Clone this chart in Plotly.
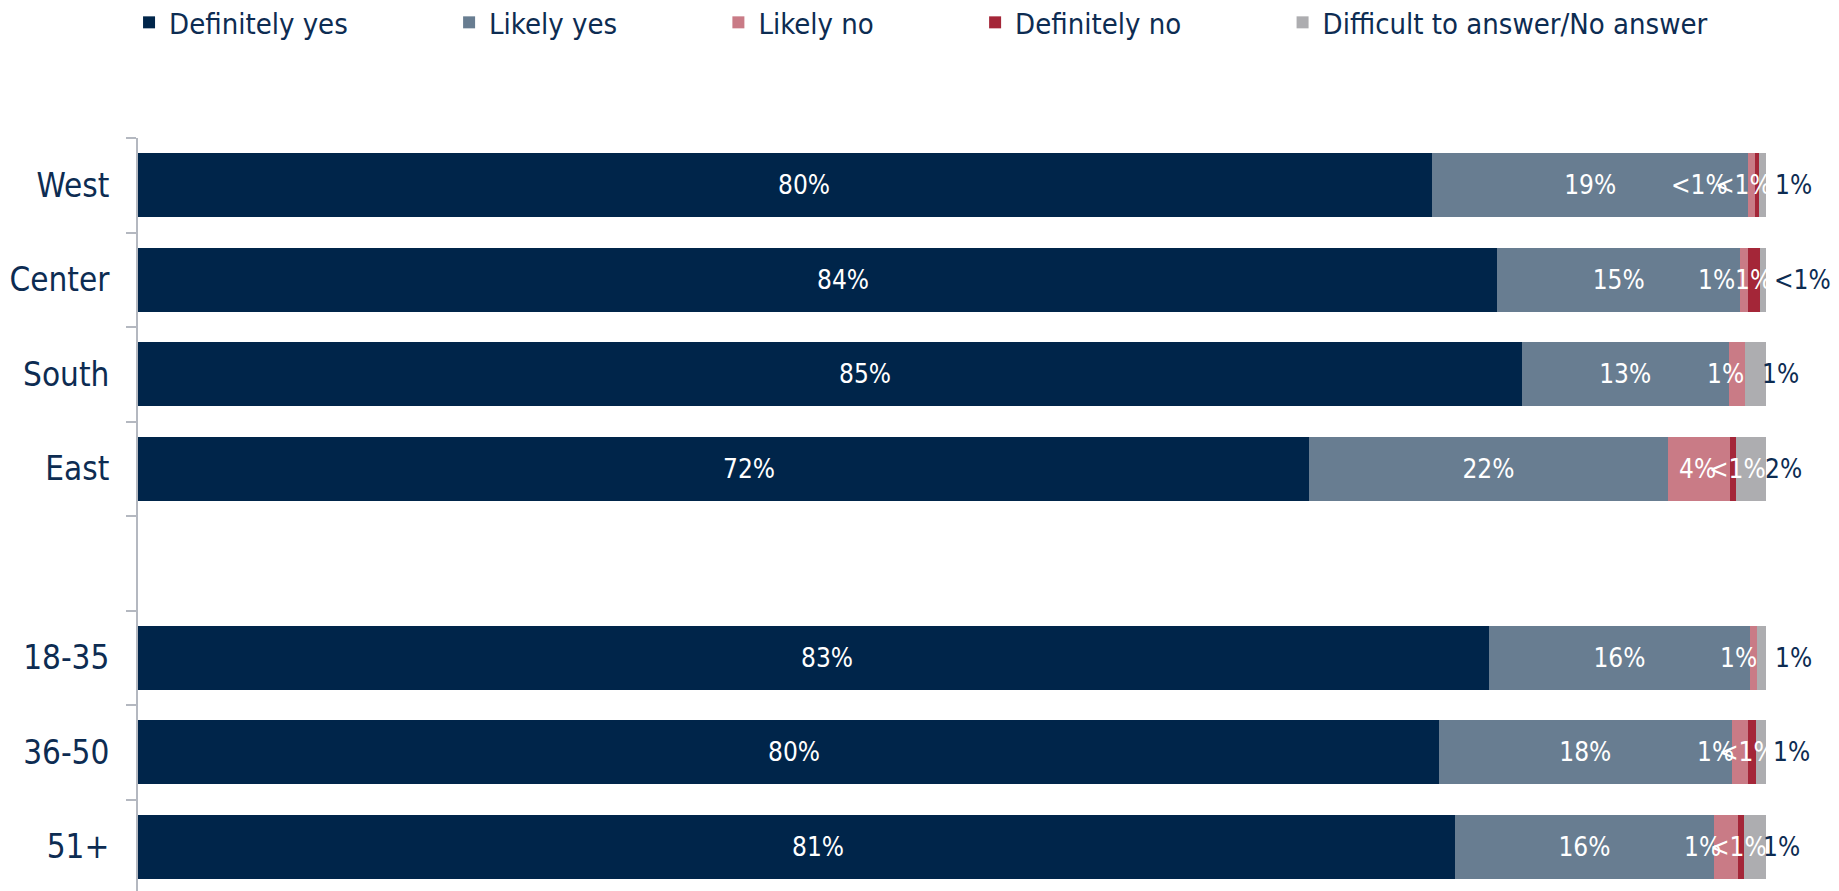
import plotly.graph_objects as go

# ---------------- data ----------------
categories = ["West", "Center", "South", "East", " ", "18-35", "36-50", "51+"]
series_names = ["Definitely yes", "Likely yes", "Likely no", "Definitely no",
                "Difficult to answer/No answer"]

definitely_yes = [79.5, 83.5, 85.0, 71.9, None, 83.0, 79.9, 80.9]
likely_yes     = [19.4, 14.9, 12.7, 22.1, None, 16.0, 18.0, 15.9]
likely_no      = [0.45, 0.47, 0.98, 3.8, None, 0.47, 0.98, 1.47]
definitely_no  = [0.25, 0.75, 0.0, 0.37, None, 0.0, 0.49, 0.37]
difficult      = [0.40, 0.38, 1.32, 1.83, None, 0.53, 0.63, 1.36]

lab_def_yes  = ["80%", "84%", "85%", "72%", "", "83%", "80%", "81%"]
lab_lik_yes  = ["19%", "15%", "13%", "22%", "", "16%", "18%", "16%"]
lab_lik_no   = ["<1%", "1%", "1%", "4%", "", "1%", "1%", "1%"]
lab_def_no   = ["<1%", "1%", "", "<1%", "", "", "<1%", "<1%"]
lab_diff     = ["1%", "<1%", "1%", "2%", "", "1%", "1%", "1%"]

# ---------------- style ----------------
colors = ["#00254A", "#687D91", "#C97B86", "#A42638", "#ADADB0"]
navy_text = "#0D2C52"
FONT = "DejaVu Sans Condensed, Open Sans, sans-serif"
LABEL_SIZE = 26
LEGEND_PAD = "\u00a0" * 11 + "\u2009"  # spreads legend entries apart

# pixel nudges of the labels (style only)
shift_def_yes = [19, 25, 35, 26, 0, 13, 6, 21]
shift_lik_no  = [-52, -27, -11, -2, 0, -15, -24, -23]
shift_def_no  = [-14, 0, 0, 4, 0, 0, -4, -2]
shift_diff    = [31, 40, 25, 32, 0, 32, 31, 27]

values = [definitely_yes, likely_yes, likely_no, definitely_no, difficult]

fig = go.Figure()
for i, (name, vals) in enumerate(zip(series_names, values)):
    if i == 1:
        kw = dict(text=lab_lik_yes, textposition="inside", insidetextanchor="middle",
                  textangle=0, textfont=dict(family=FONT, size=LABEL_SIZE, color="white"))
    else:
        kw = dict(textposition="none")
    shown = name + (LEGEND_PAD if i < len(series_names) - 1 else "")
    fig.add_trace(go.Bar(
        y=categories, x=vals, name=shown, orientation="h",
        marker=dict(color=colors[i], line=dict(width=0)),
        hoverinfo="skip", **kw))

# segment labels placed at segment centres computed from data
annotations = []
for ci, cat in enumerate(categories):
    if definitely_yes[ci] is None:
        continue
    segs = [definitely_yes[ci], likely_yes[ci], likely_no[ci], definitely_no[ci], difficult[ci]]
    starts, acc = [], 0.0
    for v in segs:
        starts.append(acc)
        acc += v
    label_sets = [(0, lab_def_yes, shift_def_yes, "white"),
                  (2, lab_lik_no, shift_lik_no, "white"),
                  (3, lab_def_no, shift_def_no, "white"),
                  (4, lab_diff, shift_diff, navy_text)]
    for si, labs, shifts, col in label_sets:
        if not labs[ci]:
            continue
        annotations.append(dict(
            x=starts[si] + segs[si] / 2, y=cat, xref="x", yref="y",
            text=labs[ci], showarrow=False, xanchor="center", yanchor="middle",
            xshift=shifts[ci], font=dict(family=FONT, size=LABEL_SIZE, color=col)))

# page body has an 8px margin -> figure is 8px smaller and shifted
fig.update_layout(
    width=1831, height=883,
    margin=dict(l=130, r=73, t=130, b=0, autoexpand=False),
    paper_bgcolor="white", plot_bgcolor="white",
    barmode="stack", bargap=0.323,
    font=dict(family=FONT, color=navy_text),
    uniformtext=dict(mode="show", minsize=LABEL_SIZE),
    showlegend=True,
    legend=dict(orientation="h", x=-0.0055, xanchor="left", y=1.1534, yanchor="middle",
                font=dict(family=FONT, size=29, color=navy_text),
                traceorder="normal", bgcolor="rgba(0,0,0,0)"),
    annotations=annotations,
)
fig.update_xaxes(range=[0, 100], showgrid=False, zeroline=False, showticklabels=False,
                 showline=False, ticks="", fixedrange=True)
fig.update_yaxes(type="category", categoryorder="array", categoryarray=categories,
                 range=[7.468, -0.5], showgrid=False, zeroline=False,
                 showline=True, linecolor="#B4B8C0", linewidth=2,
                 ticks="outside", tickson="boundaries", ticklen=10, tickwidth=2,
                 tickcolor="#B4B8C0", ticklabelstandoff=20,
                 tickfont=dict(family=FONT, size=33, color=navy_text))

fig.write_html("out.html")
